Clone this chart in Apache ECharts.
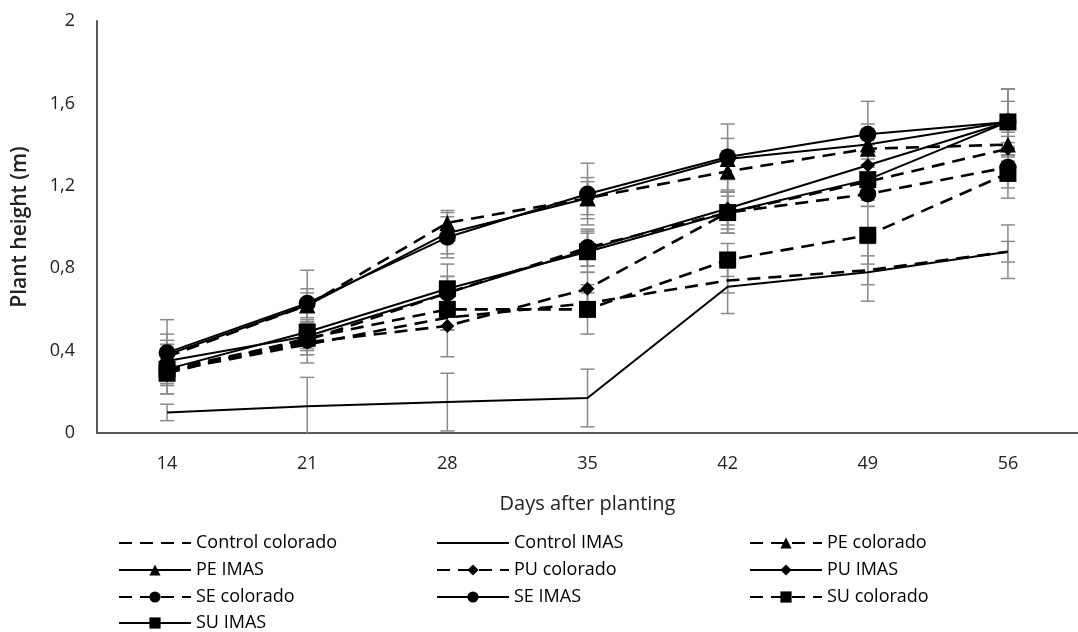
<!DOCTYPE html>
<html>
<head>
	<meta charset="utf-8">
	<title>Plant height</title>
	<script src="https://cdn.jsdelivr.net/npm/echarts@6/dist/echarts.min.js"></script>
	<style type="text/css">
		html, body { margin: 0; padding: 0; background: #fff; }
		#chart { width: 1078px; height: 632px; }
	</style>
</head>
<body>
<div id="chart"></div>
<script type="text/javascript">

	// ============ data
	var days = ['14', '21', '28', '35', '42', '49', '56'];

	var controlColorado = [0.30, 0.43, 0.56, 0.63, 0.74, 0.79, 0.88];
	var controlImas     = [0.10, 0.13, 0.15, 0.17, 0.71, 0.78, 0.88];
	var peColorado      = [0.37, 0.62, 1.02, 1.14, 1.27, 1.38, 1.40];
	var peImas          = [0.38, 0.62, 0.97, 1.14, 1.33, 1.40, 1.51];
	var puColorado      = [0.30, 0.44, 0.52, 0.70, 1.07, 1.22, 1.38];
	var puImas          = [0.35, 0.47, 0.68, 0.89, 1.09, 1.30, 1.51];
	var seColorado      = [0.31, 0.45, 0.68, 0.90, 1.07, 1.16, 1.29];
	var seImas          = [0.39, 0.63, 0.95, 1.16, 1.34, 1.45, 1.51];
	var suColorado      = [0.29, 0.46, 0.60, 0.60, 0.84, 0.96, 1.26];
	var suImas          = [0.31, 0.49, 0.70, 0.88, 1.07, 1.23, 1.51];

	// standard deviations (error bars)
	var controlColoradoErr = [0.04, 0.05, 0.06, 0.05, 0.06, 0.07, 0.05];
	var controlImasErr     = [0.04, 0.14, 0.14, 0.14, 0.13, 0.14, 0.13];
	var peColoradoErr      = [0.08, 0.06, 0.06, 0.10, 0.10, 0.08, 0.06];
	var peImasErr          = [0.10, 0.08, 0.10, 0.08, 0.10, 0.10, 0.10];
	var puColoradoErr      = [0.06, 0.10, 0.15, 0.08, 0.10, 0.08, 0.06];
	var puImasErr          = [0.08, 0.06, 0.08, 0.08, 0.08, 0.10, 0.16];
	var seColoradoErr      = [0.07, 0.05, 0.08, 0.09, 0.08, 0.06, 0.10];
	var seImasErr          = [0.16, 0.16, 0.10, 0.15, 0.16, 0.16, 0.16];
	var suColoradoErr      = [0.10, 0.08, 0.10, 0.12, 0.08, 0.14, 0.12];
	var suImasErr          = [0.12, 0.06, 0.12, 0.10, 0.10, 0.10, 0.16];

	var seriesDefs = [
		{ name: 'Control colorado', values: controlColorado, err: controlColoradoErr, dashed: true,  symbol: 'none' },
		{ name: 'Control IMAS',     values: controlImas,     err: controlImasErr,     dashed: false, symbol: 'none' },
		{ name: 'PE colorado',      values: peColorado,      err: peColoradoErr,      dashed: true,  symbol: 'triangle' },
		{ name: 'PE IMAS',          values: peImas,          err: peImasErr,          dashed: false, symbol: 'triangle' },
		{ name: 'PU colorado',      values: puColorado,      err: puColoradoErr,      dashed: true,  symbol: 'diamond' },
		{ name: 'PU IMAS',          values: puImas,          err: puImasErr,          dashed: false, symbol: 'diamond' },
		{ name: 'SE colorado',      values: seColorado,      err: seColoradoErr,      dashed: true,  symbol: 'circle' },
		{ name: 'SE IMAS',          values: seImas,          err: seImasErr,          dashed: false, symbol: 'circle' },
		{ name: 'SU colorado',      values: suColorado,      err: suColoradoErr,      dashed: true,  symbol: 'rect' },
		{ name: 'SU IMAS',          values: suImas,          err: suImasErr,          dashed: false, symbol: 'rect' }
	];

	var symbolSizes = { triangle: 16, diamond: 14, circle: 17, rect: 17, none: 0 };
	var FONT = 'Open Sans';

	// error bar drawing
	function renderErrorBar(params, api) {
		var x = api.value(0), y = api.value(1), e = api.value(2);
		var lowVal = y - e;
		var hi = api.coord([x, y + e]);
		var lo = api.coord([x, Math.max(0, lowVal)]);
		var half = 7;
		var style = { stroke: '#8a8a8a', lineWidth: 1.5 };
		var children = [
			{ type: 'line', shape: { x1: hi[0], y1: hi[1], x2: lo[0], y2: lo[1] }, style: style },
			{ type: 'line', shape: { x1: hi[0] - half, y1: hi[1], x2: hi[0] + half, y2: hi[1] }, style: style }
		];
		if (lowVal >= 0) {
			children.push({ type: 'line', shape: { x1: lo[0] - half, y1: lo[1], x2: lo[0] + half, y2: lo[1] }, style: style });
		}
		return { type: 'group', children: children };
	}

	var series = [];
	seriesDefs.forEach(function(d) {
		var noMarker = d.symbol === 'none';
		series.push({
			name: d.name,
			type: 'line',
			data: d.values,
			symbol: d.symbol,
			symbolSize: symbolSizes[d.symbol],
			showSymbol: !noMarker,
			z: 3,
			lineStyle: {
				color: '#000',
				width: d.dashed ? 2.6 : 2,
				type: d.dashed ? [13, 8] : 'solid'
			},
			// transparent item colour so the legend shows only the line for unmarked series
			itemStyle: { color: noMarker ? 'rgba(0,0,0,0)' : '#000', borderWidth: 0 },
			animation: false
		});
		series.push({
			type: 'custom',
			renderItem: renderErrorBar,
			data: d.values.map(function(v, i) { return [i, v, d.err[i]]; }),
			z: 2,
			silent: true,
			animation: false
		});
	});

	var legendCommon = {
		orient: 'vertical',
		padding: 0,
		itemWidth: 72,
		itemHeight: 14,
		itemGap: 9,
		textStyle: { fontFamily: FONT, fontSize: 18, lineHeight: 16, color: '#000' },
		selectedMode: false
	};

	var myChart = echarts.init(document.getElementById('chart'));
	var option = {
		backgroundColor: '#fff',
		animation: false,
		grid: { left: 97, right: -13, top: 21, bottom: 199, containLabel: false },
		legend: [
			Object.assign({}, legendCommon, { left: 118, top: 534, data: ['Control colorado', 'PE IMAS', 'SE colorado'] }),
			Object.assign({}, legendCommon, { left: 118, top: 614, data: ['SU IMAS'] }),
			Object.assign({}, legendCommon, { left: 436, top: 534, data: ['Control IMAS', 'PU colorado', 'SE IMAS'] }),
			Object.assign({}, legendCommon, { left: 749, top: 534, data: ['PE colorado', 'PU IMAS', 'SU colorado'] })
		],
		xAxis: {
			type: 'category',
			data: days,
			name: 'Days after planting',
			nameLocation: 'middle',
			nameGap: 61,
			nameTextStyle: { fontFamily: FONT, fontSize: 20, color: '#222' },
			axisTick: { show: false },
			axisLine: { lineStyle: { color: '#595959', width: 2 } },
			axisLabel: { fontFamily: FONT, fontSize: 18, color: '#222', margin: 22 },
			splitLine: { show: false }
		},
		yAxis: {
			type: 'value',
			min: 0,
			max: 2,
			interval: 0.4,
			name: 'Plant height (m)',
			nameLocation: 'middle',
			nameGap: 66,
			nameTextStyle: { fontFamily: FONT, fontSize: 21, fontWeight: 600, color: '#222' },
			axisLine: { show: true, lineStyle: { color: '#595959', width: 2 } },
			axisTick: { show: false },
			axisLabel: {
				fontFamily: FONT, fontSize: 18, color: '#222', margin: 22,
				formatter: function(v) { return String(+v.toFixed(1)).replace('.', ','); }
			},
			splitLine: { show: false }
		},
		series: series
	};
	myChart.setOption(option);

	window.onresize = function() { myChart.resize(); };
</script>
</body>
</html>
